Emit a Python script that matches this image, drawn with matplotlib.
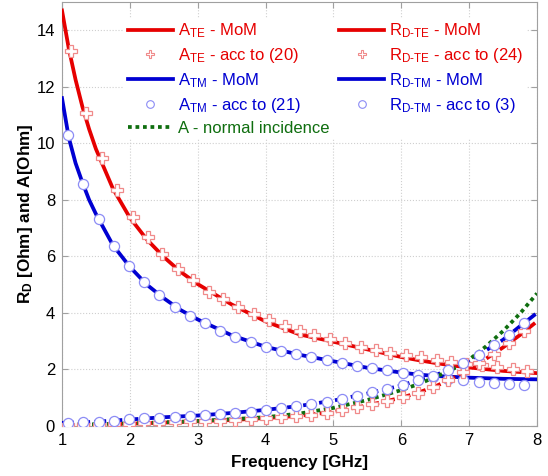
import numpy as np
import matplotlib
matplotlib.use("Agg")
import matplotlib.pyplot as plt
from matplotlib.lines import Line2D

plt.rcParams['font.family'] = ['Liberation Sans', 'DejaVu Sans']
plt.rcParams['mathtext.fontset'] = 'custom'
plt.rcParams['mathtext.rm'] = 'Liberation Sans'
plt.rcParams['mathtext.it'] = 'Liberation Sans:italic'
plt.rcParams['mathtext.bf'] = 'Liberation Sans:bold'

# frequency grid of the MoM curves [GHz]
f_line = [1.0, 1.1, 1.2, 1.3, 1.4, 1.5, 1.75, 2.0, 2.25, 2.5, 2.75, 3.0, 3.5,
          4.0, 4.5, 5.0, 5.5, 6.0, 6.25, 6.5, 6.75, 7.0, 7.25, 7.5, 7.75, 8.0]

a_te_mom = [14.7, 13.35, 12.25, 11.3, 10.5, 9.8, 8.4, 7.37, 6.6, 5.98, 5.45, 5.02, 4.3,
            3.7, 3.24, 2.98, 2.71, 2.44, 2.33, 2.23, 2.14, 2.07, 2.01, 1.95, 1.91, 1.87]
a_tm_mom = [11.6, 10.2, 9.3, 8.62, 8.0, 7.5, 6.4, 5.63, 5.0, 4.52, 4.1, 3.77, 3.21,
            2.8, 2.52, 2.29, 2.06, 1.89, 1.82, 1.77, 1.74, 1.71, 1.69, 1.67, 1.66, 1.65]
rd_te_mom = [0.03, 0.03, 0.04, 0.04, 0.05, 0.05, 0.06, 0.08, 0.10, 0.12, 0.14, 0.17, 0.21,
             0.28, 0.36, 0.50, 0.73, 1.00, 1.18, 1.40, 1.68, 2.02, 2.38, 2.78, 3.22, 3.70]
rd_tm_mom = [0.11, 0.12, 0.12, 0.13, 0.14, 0.15, 0.19, 0.23, 0.27, 0.31, 0.34, 0.37, 0.46,
             0.57, 0.71, 0.90, 1.15, 1.43, 1.63, 1.80, 2.02, 2.33, 2.68, 3.05, 3.53, 4.00]
a_normal = [0.04, 0.04, 0.05, 0.05, 0.06, 0.06, 0.08, 0.09, 0.11, 0.13, 0.15, 0.18, 0.24,
            0.31, 0.44, 0.64, 0.92, 1.27, 1.48, 1.73, 2.00, 2.35, 2.82, 3.36, 3.98, 4.69]

# analytical points
f_circ = [1.09, 1.31, 1.54, 1.76, 1.99, 2.21, 2.43, 2.66, 2.88, 3.11, 3.33, 3.55, 3.78,
          4.00, 4.23, 4.45, 4.67, 4.90, 5.12, 5.35, 5.57, 5.79, 6.02, 6.24, 6.47, 6.69,
          6.91, 7.14, 7.36, 7.59, 7.81]
f_plus = [1.14, 1.36, 1.59, 1.81, 2.04, 2.26, 2.48, 2.71, 2.93, 3.16, 3.38, 3.60, 3.83,
          4.05, 4.28, 4.50, 4.72, 4.95, 5.17, 5.40, 5.62, 5.84, 6.07, 6.29, 6.52, 6.74,
          6.96, 7.19, 7.41, 7.64, 7.86]

a_te_20 = [13.26, 11.07, 9.49, 8.34, 7.40, 6.69, 6.08, 5.57, 5.16, 4.75, 4.49, 4.22, 3.96,
           3.74, 3.53, 3.37, 3.22, 3.07, 2.93, 2.80, 2.69, 2.59, 2.50, 2.43, 2.34, 2.26,
           2.20, 2.15, 2.10, 2.01, 1.94]
a_tm_21 = [10.31, 8.57, 7.31, 6.37, 5.66, 5.10, 4.63, 4.22, 3.90, 3.63, 3.37, 3.16, 2.98,
           2.80, 2.66, 2.54, 2.44, 2.33, 2.22, 2.12, 2.05, 1.98, 1.88, 1.80, 1.74, 1.68,
           1.63, 1.57, 1.51, 1.47, 1.45]
rd_te_24 = [0.03, 0.04, 0.05, 0.07, 0.08, 0.10, 0.12, 0.14, 0.16, 0.18, 0.19, 0.22, 0.25,
            0.28, 0.31, 0.35, 0.39, 0.47, 0.56, 0.66, 0.77, 0.88, 1.01, 1.18, 1.37, 1.63,
            1.92, 2.22, 2.55, 2.93, 3.35]
rd_tm_3 = [0.12, 0.13, 0.15, 0.19, 0.23, 0.27, 0.30, 0.33, 0.36, 0.39, 0.43, 0.47, 0.51,
           0.57, 0.63, 0.70, 0.78, 0.86, 0.95, 1.07, 1.19, 1.30, 1.45, 1.62, 1.78, 1.98,
           2.22, 2.52, 2.85, 3.22, 3.65]

red = '#e60000'
blue = '#0000d2'
green = '#0f6e0f'
lred = '#f08a8a'
lblue = '#8c8cf5'
lw = 2.7
dash = (0, (3.2, 1.1))
dots = (0, (1, 1))

W, H = 548, 476
fig = plt.figure(figsize=(W / 100, H / 100), dpi=100)
ax = fig.add_axes([62 / W, (H - 426) / H, (537 - 62) / W, (426 - 2) / H])

ax.plot(f_line, a_te_mom, '-', color=red, lw=lw, zorder=3)
ax.plot(f_line, a_tm_mom, '-', color=blue, lw=lw, zorder=3)
ax.plot(f_line, rd_te_mom, color=red, lw=lw, ls=dash, zorder=3)
ax.plot(f_line, rd_tm_mom, color=blue, lw=lw, ls=dash, zorder=3)
ax.plot(f_line, a_normal, color=green, lw=lw, ls=dots, zorder=4)
ax.plot(f_plus, a_te_20, 'P', ms=8, mfc='white', mec=lred, mew=0.9, ls='none', zorder=5)
ax.plot(f_circ, a_tm_21, 'o', ms=7.3, mfc='white', mec=lblue, mew=0.9, ls='none', zorder=5)
ax.plot(f_circ, rd_te_24, 'P', ms=8, mfc='white', mec=lred, mew=0.9, ls='none', zorder=5)
ax.plot(f_circ, rd_tm_3, 'o', ms=7.3, mfc='white', mec=lblue, mew=0.9, ls='none', zorder=5)

ax.set_xlim(1, 8)
ax.set_ylim(0, 15)
ax.set_xticks(np.arange(1, 9))
ax.set_yticks(np.arange(0, 15, 2))
ax.grid(True, ls=':', color='#cfcfcf', lw=0.8)
ax.tick_params(direction='in', top=True, right=True, labelsize=12, length=4,
               color='#a0a0a0', pad=5)
for s in ax.spines.values():
    s.set_color('#a0a0a0')

ax.set_xlabel('Frequency [GHz]', fontsize=12.3, fontweight='bold', labelpad=5)
ax.set_ylabel(r'R$_\mathbf{D}$ [Ohm] and A[Ohm]', fontsize=12.3, fontweight='bold', labelpad=1)

# legend handles (MoM curves are shown as solid lines in the legend)
def line_h(c, ls='-'):
    return Line2D([], [], color=c, lw=lw, ls=ls)

def mark_h(m, c, ms):
    return Line2D([], [], marker=m, ms=ms, mfc='white', mec=c, mew=0.8, ls='none')

handles = [line_h(red), mark_h('P', lred, 6), line_h(blue), mark_h('o', lblue, 5.5),
           line_h(green, dots),
           line_h(red), mark_h('P', lred, 6), line_h(blue), mark_h('o', lblue, 5.5)]
labels = [r'A$_{\mathrm{TE}}$ - MoM', r'A$_{\mathrm{TE}}$ - acc to (20)',
          r'A$_{\mathrm{TM}}$ - MoM', r'A$_{\mathrm{TM}}$ - acc to (21)',
          'A - normal incidence',
          r'R$_{\mathrm{D}\text{-}\mathrm{TE}}$ - MoM', r'R$_{\mathrm{D}\text{-}\mathrm{TE}}$ - acc to (24)',
          r'R$_{\mathrm{D}\text{-}\mathrm{TM}}$ - MoM', r'R$_{\mathrm{D}\text{-}\mathrm{TM}}$ - acc to (3)']
cols = [red, red, blue, blue, green, red, red, blue, blue]
leg = ax.legend(handles, labels, ncol=2, numpoints=1,
                loc='upper left', bbox_to_anchor=(0.131, 0.962), borderaxespad=0,
                borderpad=0.2, fontsize=12, handlelength=2.7, handletextpad=0.3,
                columnspacing=0.6, labelspacing=0.36, frameon=True, fancybox=False,
                facecolor='white', edgecolor='none', framealpha=1)
for t, c in zip(leg.get_texts(), cols):
    t.set_color(c)

fig.savefig('out.png', dpi=100)
